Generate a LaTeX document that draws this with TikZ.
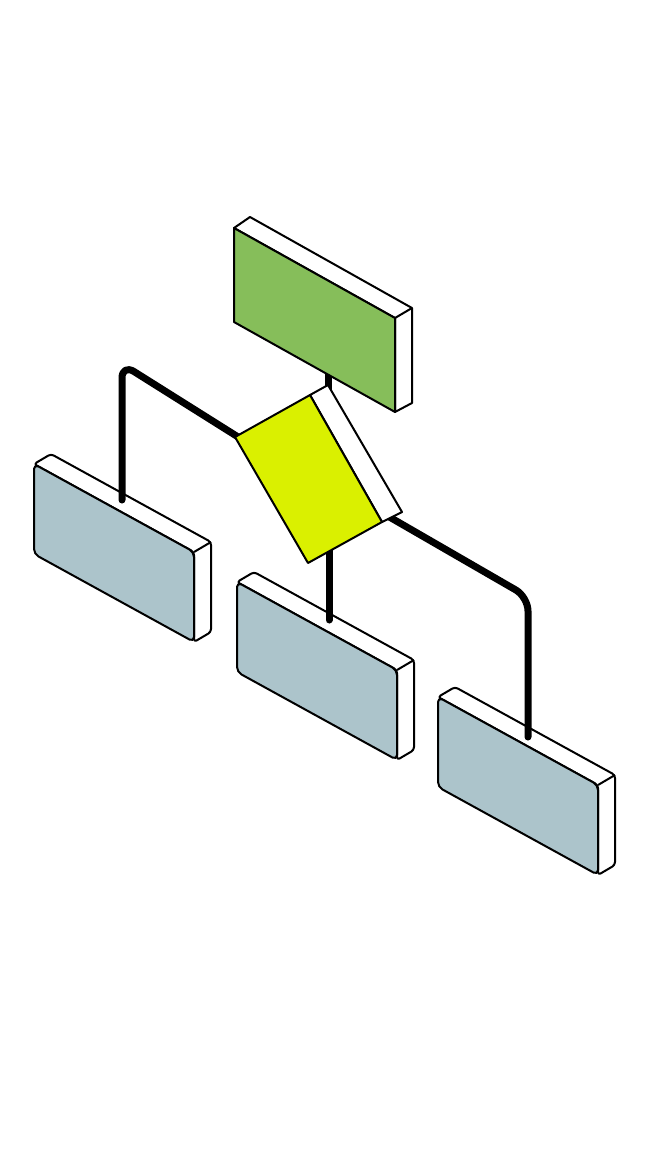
\documentclass[tikz,border=0pt]{standalone}
\usetikzlibrary{calc}
\definecolor{slabblue}{RGB}{172,196,203}
\definecolor{slabgreen}{RGB}{134,190,90}
\definecolor{slabyellow}{RGB}{218,240,0}
\begin{document}
\begin{tikzpicture}[x=1pt,y=-1pt,line join=round,
  edge/.style={draw=black,line width=2pt},
  wire/.style={draw=black,line width=7pt,line cap=round,rounded corners=14pt},
  side/.style={edge,fill=white}]
\path[use as bounding box] (0,0) rectangle (648,1152);
% ---- blue slabs
\foreach \nm/\px/\py in {bl/34/464, bm/237/582, br/438/697}{
  \begin{scope}[shift={(\px,\py)}]
    \path[side,rounded corners=3pt] (0,0) -- (17,-10) -- (177,78) -- (177,168) -- (160,178) -- (160,88) -- cycle;
    \path[edge] (160,88) -- (177,78);
    \path[edge,fill=slabblue,rounded corners=5pt] (0,0) -- (160,88) -- (160,178) -- (0,90) -- cycle;
  \end{scope}
}
% ---- connector anchors
\coordinate (ytop) at (328,400);
\coordinate (gbot) at (328,372);
\coordinate (yleft) at (262,452);
\coordinate (cl) at (122,364);
\coordinate (tl) at (122,500);
\coordinate (yright) at (360,500);
\coordinate (cr) at (528,597);
\coordinate (tr) at (528,737);
\coordinate (ybot) at (329,540);
\coordinate (tm) at (329,620);
\path[wire] (yleft) -- (cl) -- (tl);
\path[wire] (yright) -- (cr) -- (tr);
\path[wire] (ybot) -- (tm);
\path[wire] (gbot) -- (ytop);
% ---- green slab
\begin{scope}[shift={(234,228)}]
  \path[side] (0,0) -- (16,-11) -- (178,80) -- (178,175) -- (161,184) -- (161,90) -- cycle;
  \path[edge] (161,90) -- (178,80);
  \path[edge,fill=slabgreen] (0,0) -- (161,90) -- (161,184) -- (0,94) -- cycle;
\end{scope}
% ---- yellow tilted slab
\path[side] (310,395) -- (328,385) -- (402,512) -- (382,522) -- cycle;
\path[edge,fill=slabyellow] (235,437) -- (310,395) -- (382,522) -- (308,563) -- cycle;
\end{tikzpicture}
\end{document}
